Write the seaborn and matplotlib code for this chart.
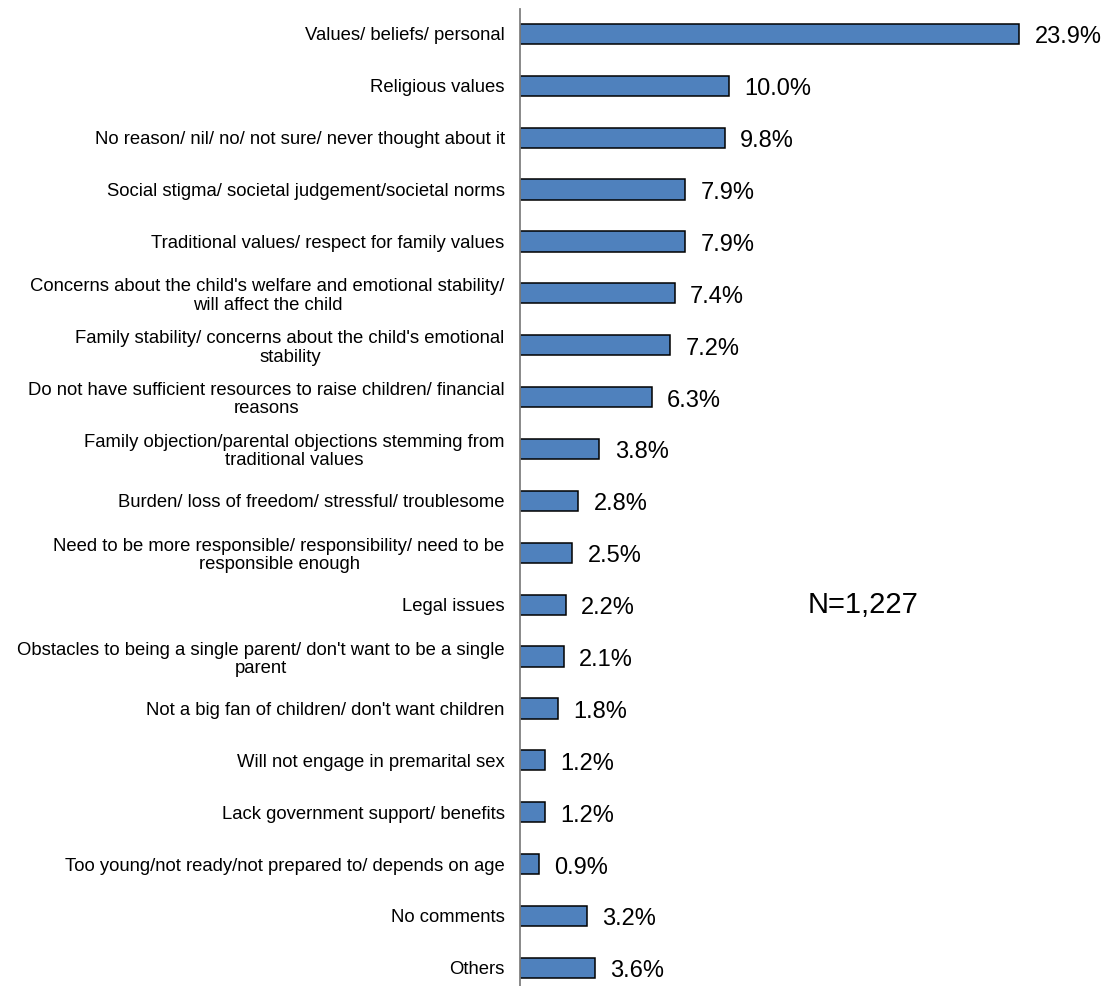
import matplotlib
matplotlib.use("Agg")
import matplotlib.pyplot as plt
import seaborn as sns
import pandas as pd

reasons = [
    "Values/ beliefs/ personal",
    "Religious values",
    "No reason/ nil/ no/ not sure/ never thought about it",
    "Social stigma/ societal judgement/societal norms",
    "Traditional values/ respect for family values",
    "Concerns about the child's welfare and emotional stability/\nwill affect the child",
    "Family stability/ concerns about the child's emotional\nstability",
    "Do not have sufficient resources to raise children/ financial\nreasons",
    "Family objection/parental objections stemming from\ntraditional values",
    "Burden/ loss of freedom/ stressful/ troublesome",
    "Need to be more responsible/ responsibility/ need to be\nresponsible enough",
    "Legal issues",
    "Obstacles to being a single parent/ don't want to be a single\nparent",
    "Not a big fan of children/ don't want children",
    "Will not engage in premarital sex",
    "Lack government support/ benefits",
    "Too young/not ready/not prepared to/ depends on age",
    "No comments",
    "Others",
]
shares = [23.9, 10.0, 9.8, 7.9, 7.9, 7.4, 7.2, 6.3, 3.8, 2.8, 2.5, 2.2, 2.1,
          1.8, 1.2, 1.2, 0.9, 3.2, 3.6]
sample_note = "N=1,227"

sns.set_theme(style="white")
plt.rcParams["font.family"] = ["Liberation Sans", "DejaVu Sans"]

df = pd.DataFrame({"reason": reasons, "share": shares})

fig = plt.figure(figsize=(11.06, 9.86), dpi=100)
ax = fig.add_axes([520 / 1106, 0.0, 1 - 520 / 1106, 1 - 9 / 986])

sns.barplot(data=df, x="share", y="reason", orient="h", color="#4F81BD",
            saturation=1, edgecolor="black", linewidth=1.1, width=0.39, ax=ax)

for c in ax.containers:
    texts = ax.bar_label(c, labels=[f"{v:.1f}%" for v in df["share"]],
                         padding=11, fontsize=17, color="black")
    for t in texts:
        t.set_va("center")
        t.xyann = (11, -2.5)

ax.set_xlim(0, 28.05)
ax.set_ylim(18.35, -0.48)
ax.set_xlabel("")
ax.set_ylabel("")
ax.set_xticks([])
ax.tick_params(axis="y", length=0, pad=11, labelsize=13.3, labelcolor="black")
for t in ax.get_yticklabels():
    t.set_multialignment("center")
    t.set_linespacing(1.1)

for s in ["top", "right", "bottom"]:
    ax.spines[s].set_visible(False)
ax.spines["left"].set_color("#808080")
ax.spines["left"].set_linewidth(1.3)

ax.text(16.4, 11.0, sample_note, fontsize=21, color="black",
        ha="center", va="center")

fig.savefig("out.png", dpi=100)
